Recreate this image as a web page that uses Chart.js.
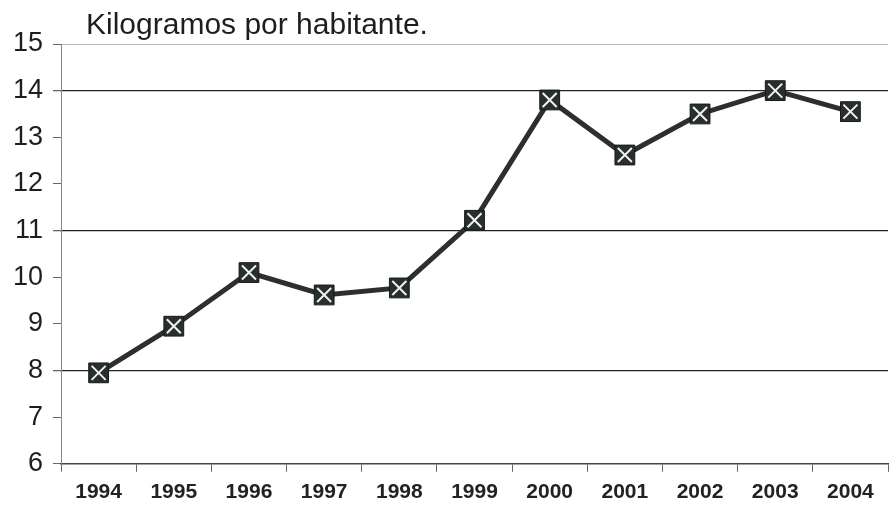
<!DOCTYPE html>
<html>
<head>
<meta charset="utf-8">
<script src="https://cdn.jsdelivr.net/npm/chart.js@4"></script>
<style>
  html,body{margin:0;padding:0;background:#fff;overflow:hidden;}
  #wrap{width:892px;height:515px;position:relative;}
  #wrap canvas{display:block;}
</style>
</head>
<body>
<div id="wrap"><canvas id="kgChart"></canvas></div>
<script>
const years = ["1994","1995","1996","1997","1998","1999","2000","2001","2002","2003","2004"];
const kgPerPerson = [7.95, 8.95, 10.1, 9.62, 9.77, 11.22, 13.8, 12.62, 13.5, 14.0, 13.55];
const titleText = "Kilogramos por habitante.";
const darkLines = [8, 11, 14];

// white cross on every marker + title text in the top left corner
const extras = {
  id: "extras",
  afterDatasetsDraw(chart){
    const c = chart.ctx;
    c.save();
    c.strokeStyle = "#f2f2f2";
    c.lineWidth = 2;
    chart.getDatasetMeta(0).data.forEach(p=>{
      const s = 7;
      c.beginPath();
      c.moveTo(p.x-s,p.y-s); c.lineTo(p.x+s,p.y+s);
      c.moveTo(p.x+s,p.y-s); c.lineTo(p.x-s,p.y+s);
      c.stroke();
    });
    c.restore();
  },
  afterDraw(chart){
    const c = chart.ctx;
    c.save();
    c.fillStyle = "#1e1e1e";
    c.font = "30px 'Liberation Sans', Arial, sans-serif";
    c.textBaseline = "alphabetic";
    c.fillText(titleText, chart.chartArea.left + 25, 34);
    c.restore();
  }
};

new Chart(document.getElementById("kgChart"), {
  type: "line",
  data: { labels: years, datasets: [{
    data: kgPerPerson,
    borderColor: "#2e2e2e", borderWidth: 5, tension: 0,
    pointStyle: "rect", pointRadius: 14, pointHoverRadius: 14,
    pointBackgroundColor: "#27302b", pointBorderColor: "#1a1a1a", pointBorderWidth: 1
  }]},
  options: {
    responsive: true, maintainAspectRatio: false, animation: false,
    layout: { autoPadding: false, padding: { top: 44, right: 4, left: 3, bottom: 2 } },
    plugins: { legend: { display: false }, tooltip: { enabled: false } },
    scales: {
      x: {
        offset: true,
        grid: {
          offset: true,
          color: ctx => ctx.index === years.length ? "#c8c8c8" : "rgba(0,0,0,0)",
          tickColor: "#666", tickLength: 8
        },
        border: { color: "#444", width: 1.5 },
        ticks: { color: "#222", padding: 8, maxRotation: 0,
          font: { family: "'Liberation Sans', Arial, sans-serif", size: 21, weight: "bold" } }
      },
      y: {
        min: 6, max: 15,
        grid: {
          color: ctx => darkLines.includes(ctx.tick.value) ? "#222" : (ctx.tick.value === 15 ? "#bbb" : "rgba(0,0,0,0)"),
          lineWidth: ctx => darkLines.includes(ctx.tick.value) ? 1.3 : 1,
          tickColor: "#666", tickLength: 8
        },
        border: { color: "#888", width: 1 },
        ticks: { stepSize: 1, color: "#1e1e1e", padding: 10,
          font: { family: "'Liberation Sans', Arial, sans-serif", size: 27 } }
      }
    }
  },
  plugins: [extras]
});
</script>
</body>
</html>
